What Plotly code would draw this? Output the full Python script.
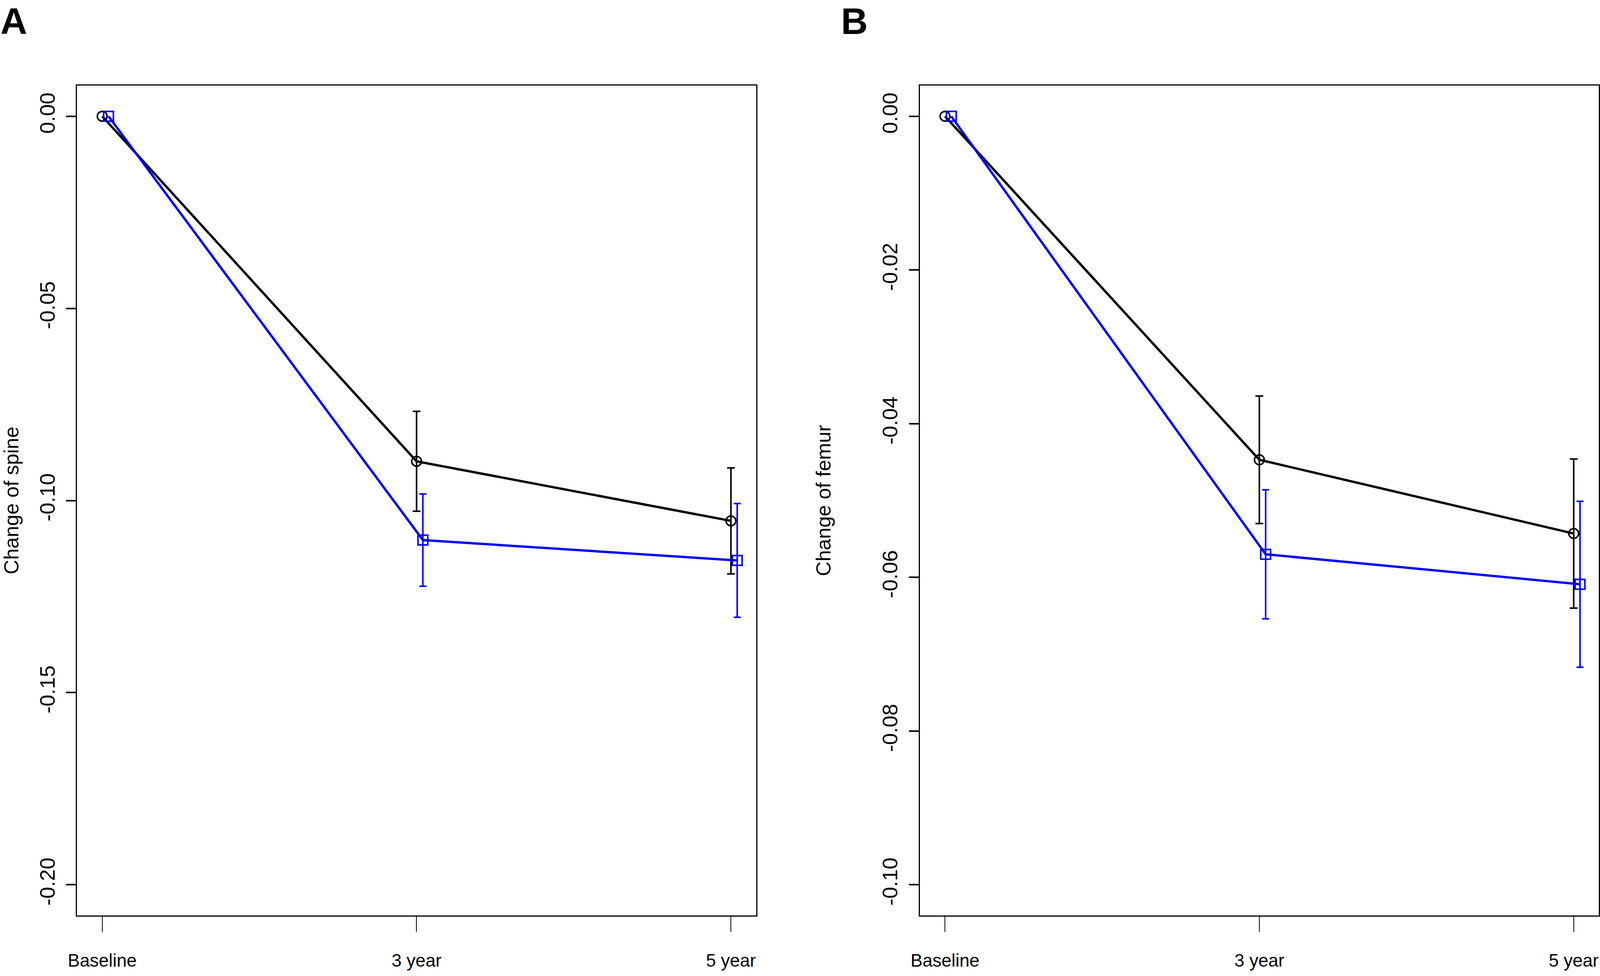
import plotly.graph_objects as go

# ---------------- data ----------------
categories = ["Baseline", "3 year", "5 year"]
x_pos = [1, 2, 3]

spine_black = [0.0, -0.0898, -0.1053]
spine_black_err = [0.0, 0.0130, 0.0138]
spine_blue = [0.0, -0.1103, -0.1156]
spine_blue_err = [0.0, 0.0120, 0.0148]

femur_black = [0.0, -0.0447, -0.0543]
femur_black_err = [0.0, 0.0083, 0.0097]
femur_blue = [0.0, -0.0570, -0.0609]
femur_blue_err = [0.0, 0.0084, 0.0108]

spine_ticks = [0.00, -0.05, -0.10, -0.15, -0.20]
femur_ticks = [0.00, -0.02, -0.04, -0.06, -0.08, -0.10]

y_titles = ["Change of spine", "Change of femur"]
panel_labels = ["A", "B"]

# ---------------- style ----------------
W, H = 4096, 2499          # the browser viewport that the page is shown in
REF_W = 6975               # reference width: horizontal reference positions are given in it
FONT = "Liberation Sans, Arial, Helvetica, sans-serif"
BLACK = "#000000"
BLUE = "#0000FF"
DODGE = 0.02  # horizontal offset of the blue series

fig = go.Figure()


def add_panel(xa, ya, yb, eb, yl, el):
    xb = [v for v in x_pos]
    xl = [v + DODGE for v in x_pos]
    fig.add_trace(go.Scatter(
        x=xb, y=yb, mode="lines+markers", xaxis=xa, yaxis=ya,
        line=dict(color=BLACK, width=6),
        marker=dict(symbol="circle-open", size=25, color=BLACK, line=dict(width=4)),
        showlegend=False, hoverinfo="skip"))
    fig.add_trace(go.Scatter(
        x=xb[1:], y=yb[1:], mode="markers", xaxis=xa, yaxis=ya,
        marker=dict(size=1, color="rgba(0,0,0,0)"),
        error_y=dict(type="data", array=eb[1:], color=BLACK, thickness=4, width=10),
        showlegend=False, hoverinfo="skip"))
    fig.add_trace(go.Scatter(
        x=xl, y=yl, mode="lines+markers", xaxis=xa, yaxis=ya,
        line=dict(color=BLUE, width=6),
        marker=dict(symbol="square-open", size=25, color=BLUE, line=dict(width=4)),
        showlegend=False, hoverinfo="skip"))
    fig.add_trace(go.Scatter(
        x=xl[1:], y=yl[1:], mode="markers", xaxis=xa, yaxis=ya,
        marker=dict(size=1, color="rgba(0,0,0,0)"),
        error_y=dict(type="data", array=el[1:], color=BLUE, thickness=4, width=9),
        showlegend=False, hoverinfo="skip"))


add_panel("x", "y", spine_black, spine_black_err, spine_blue, spine_blue_err)
add_panel("x2", "y2", femur_black, femur_black_err, femur_blue, femur_blue_err)

y_dom = [1 - 2344 / H, 1 - 219 / H]
xA = [336 / REF_W, 3296 / REF_W]
xB = [4010 / REF_W, 6970 / REF_W]

xcommon = dict(
    range=[0.92, 3.08], tickmode="array", tickvals=x_pos, ticktext=categories,
    showline=True, linecolor=BLACK, linewidth=3, mirror=True,
    ticks="outside", ticklen=39, tickwidth=1.5, tickcolor=BLACK,
    showgrid=False, zeroline=False, automargin=False,
    tickfont=dict(family=FONT, size=46, color=BLACK),
    ticklabelstandoff=34, ticklabeloverflow="allow",
)
ycommon = dict(
    showline=True, linecolor=BLACK, linewidth=3, mirror=True,
    ticks="outside", ticklen=25, tickwidth=4, tickcolor=BLACK,
    showgrid=False, zeroline=False, tickangle=-90, automargin=False,
    tickfont=dict(family=FONT, size=54, color=BLACK),
    ticklabelstandoff=8, ticklabeloverflow="allow",
)
ytitle_font = dict(family=FONT, size=52, color=BLACK)

fig.update_layout(
    width=W, height=H,
    margin=dict(l=0, r=0, t=0, b=0),
    paper_bgcolor="white", plot_bgcolor="white",
    xaxis=dict(domain=xA, anchor="y", **xcommon),
    yaxis=dict(domain=y_dom, anchor="x", range=[-0.208, 0.008],
               title=dict(text=y_titles[0], font=ytitle_font, standoff=106),
               tickvals=spine_ticks, ticktext=[f"{v:.2f}" for v in spine_ticks], **ycommon),
    xaxis2=dict(domain=xB, anchor="y2", **xcommon),
    yaxis2=dict(domain=y_dom, anchor="x2", range=[-0.104, 0.004],
                title=dict(text=y_titles[1], font=ytitle_font, standoff=106),
                tickvals=femur_ticks, ticktext=[f"{v:.2f}" for v in femur_ticks], **ycommon),
)

annotations = [
    dict(text=f"<b>{panel_labels[0]}</b>", x=0, y=1, xref="paper", yref="paper",
         xanchor="left", yanchor="top", showarrow=False, borderpad=0,
         font=dict(family=FONT, size=95, color=BLACK)),
    dict(text=f"<b>{panel_labels[1]}</b>", x=3665 / REF_W, y=1, xref="paper", yref="paper",
         xanchor="left", yanchor="top", showarrow=False, borderpad=0,
         font=dict(family=FONT, size=95, color=BLACK)),
]
fig.update_layout(annotations=annotations)

post = "document.body.style.margin='0';document.body.style.overflow='hidden';"
fig.write_html("out.html", post_script=post, config={"displayModeBar": False})
